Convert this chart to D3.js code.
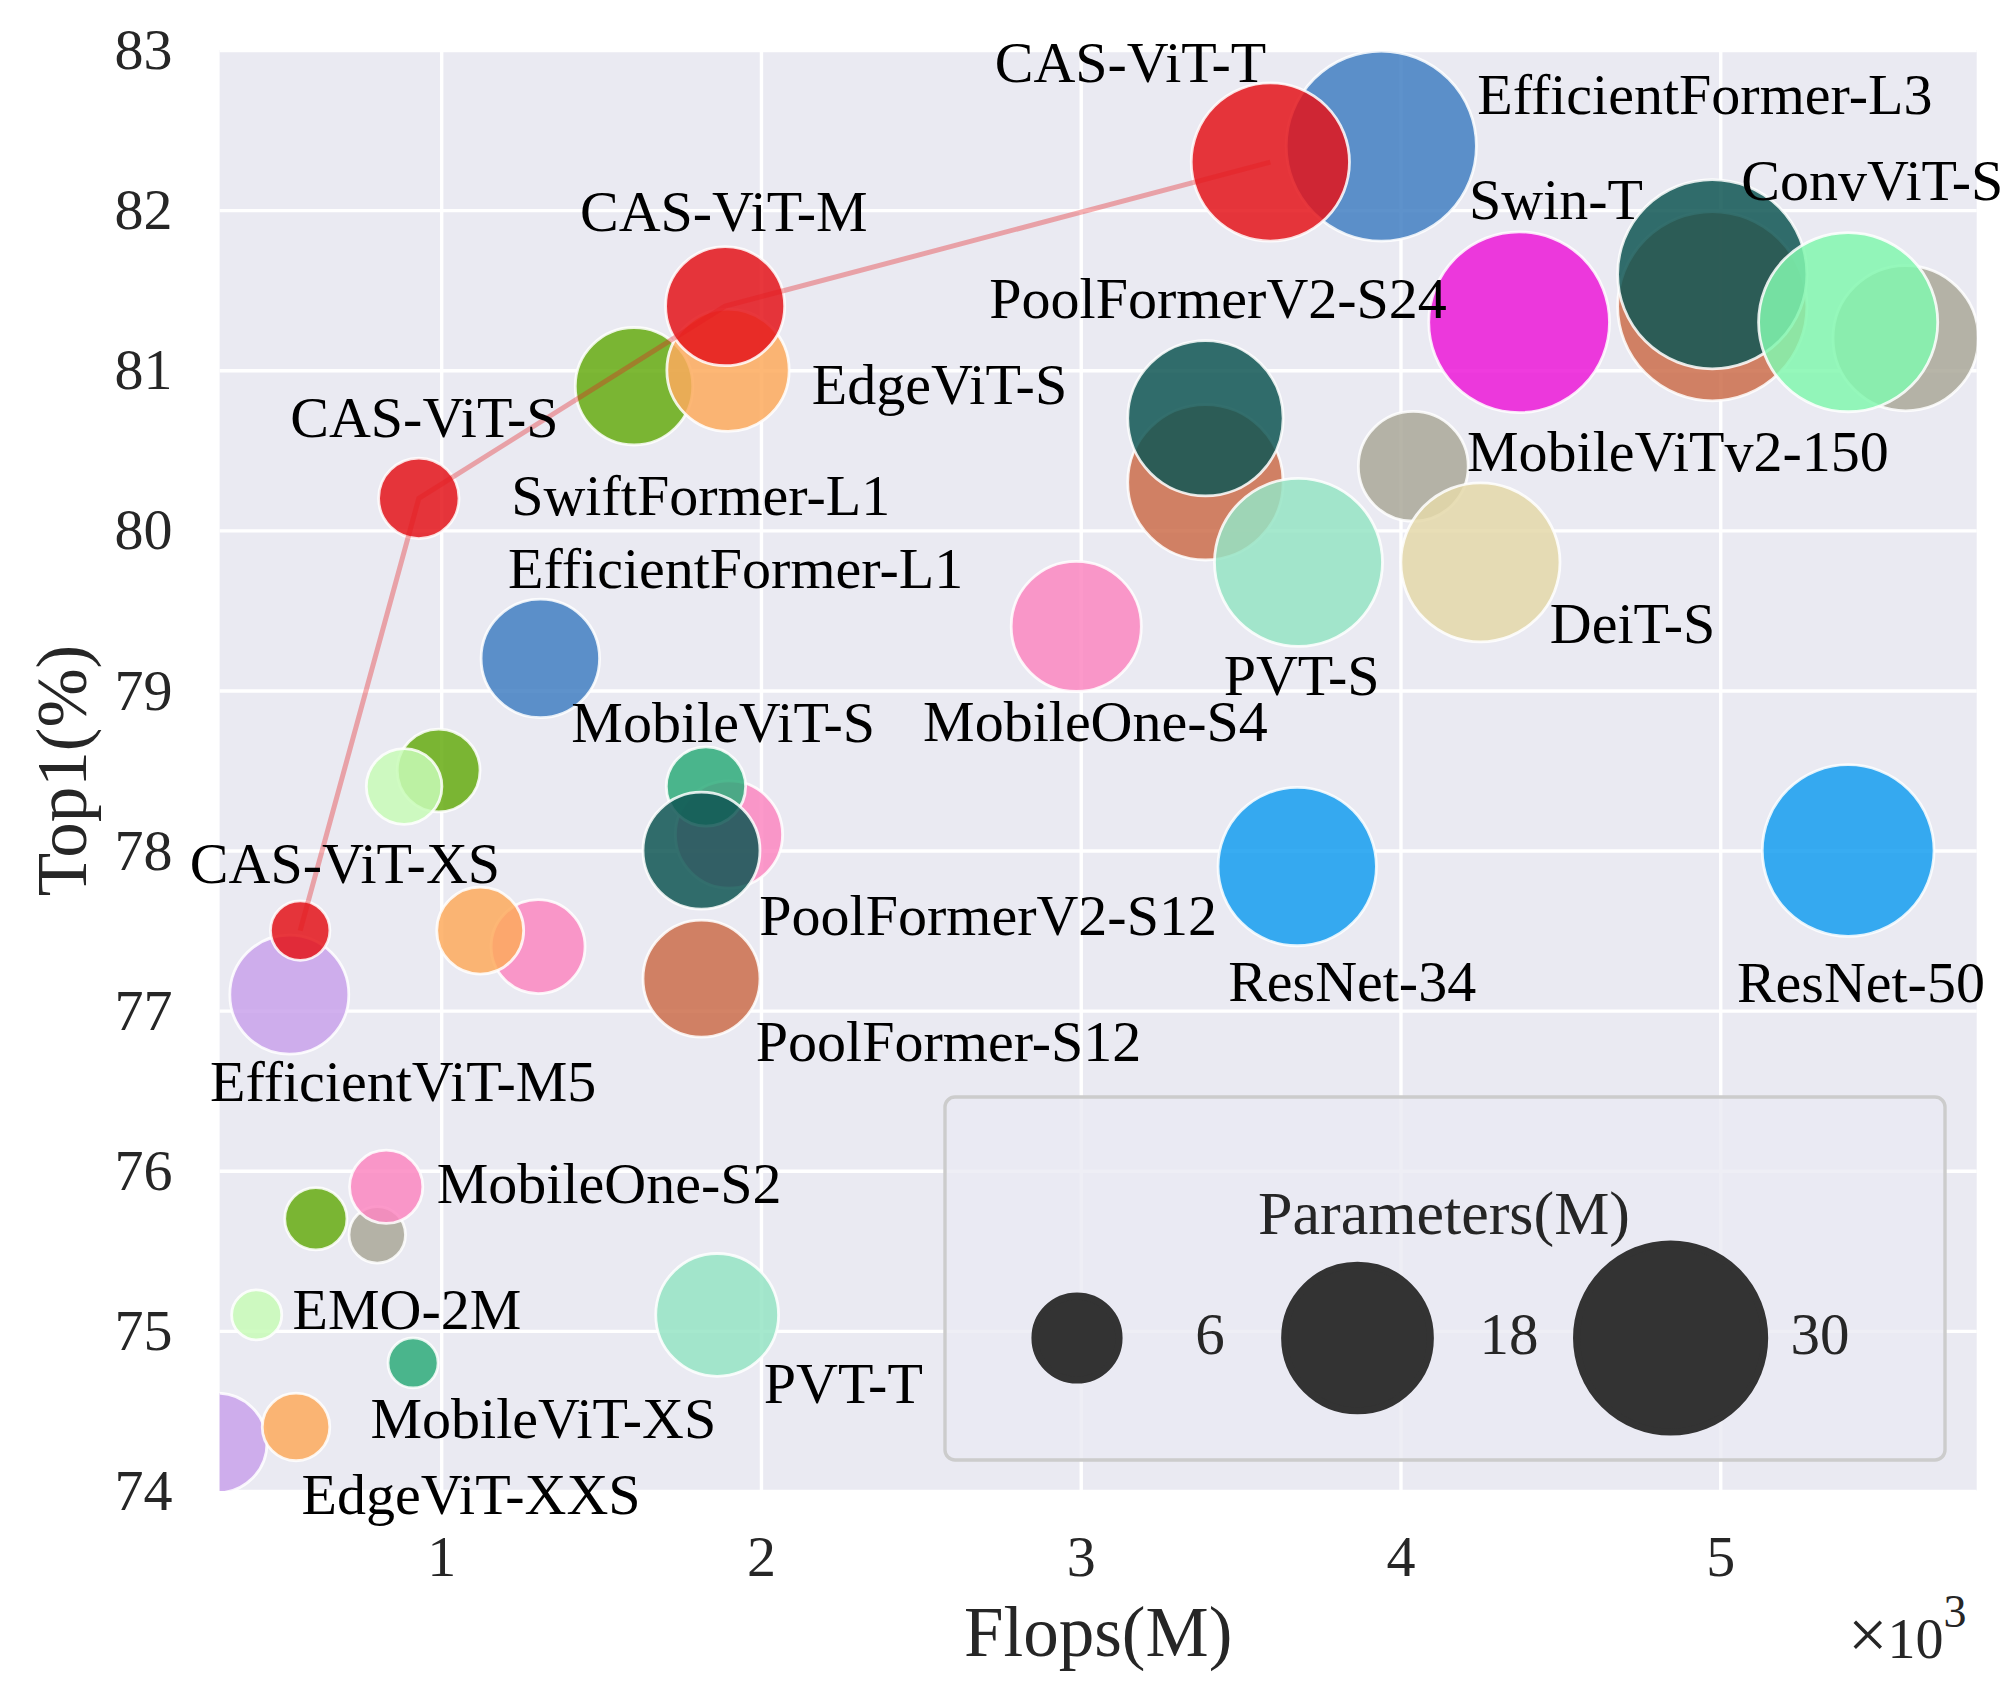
<!DOCTYPE html>
<html>
<head>
<meta charset="utf-8">
<script src="https://cdn.jsdelivr.net/npm/d3@7/dist/d3.min.js"></script>
<style>
  html, body { margin: 0; padding: 0; background: #ffffff; }
  svg { display: block; }
</style>
</head>
<body>
<svg id="chart" width="2012" height="1695"></svg>
<script>
// ---------------- DATA ----------------
// families in drawing order, with their colours
const families = ["EfficientViT", "MobileViTv2", "MobileOne", "SwiftFormer", "EMO", "EdgeViT",
  "MobileViT", "PoolFormer", "PoolFormerV2", "EfficientFormer", "PVT", "DeiT", "Swin", "ConViT",
  "ResNet", "CAS-ViT"];
const familyColors = ["#c9a2eb", "#aaa899", "#fb87c1", "#66ac12", "#c8fbb7", "#fdaa5d",
  "#2eac7a", "#cb6d4b", "#0f5654", "#427fc2", "#95e4c4", "#e4d8a9", "#ec19d8", "#83f7af",
  "#159df0", "#e4141a"];

// model points (drawing order)
const modelNames = ["EfficientViT-M4", "EfficientViT-M5",
  "MobileViTv2-0.75", "MobileViTv2-1.5", "MobileViTv2-2.0",
  "MobileOne-S1", "MobileOne-S2", "MobileOne-S3", "MobileOne-S4",
  "SwiftFormer-XS", "SwiftFormer-S", "SwiftFormer-L1",
  "EMO-2M", "EMO-5M",
  "EdgeViT-XXS", "EdgeViT-XS", "EdgeViT-S",
  "MobileViT-XS", "MobileViT-S",
  "PoolFormer-S12", "PoolFormer-S24", "PoolFormer-S36",
  "PoolFormerV2-S12", "PoolFormerV2-S24", "PoolFormerV2-S36",
  "EfficientFormer-L1", "EfficientFormer-L3",
  "PVT-T", "PVT-S", "DeiT-S", "Swin-T", "ConViT-S",
  "ResNet-34", "ResNet-50",
  "CAS-ViT-XS", "CAS-ViT-S", "CAS-ViT-M", "CAS-ViT-T"];
const modelFamily = ["EfficientViT", "EfficientViT",
  "MobileViTv2", "MobileViTv2", "MobileViTv2",
  "MobileOne", "MobileOne", "MobileOne", "MobileOne",
  "SwiftFormer", "SwiftFormer", "SwiftFormer",
  "EMO", "EMO",
  "EdgeViT", "EdgeViT", "EdgeViT",
  "MobileViT", "MobileViT",
  "PoolFormer", "PoolFormer", "PoolFormer",
  "PoolFormerV2", "PoolFormerV2", "PoolFormerV2",
  "EfficientFormer", "EfficientFormer",
  "PVT", "PVT", "DeiT", "Swin", "ConViT",
  "ResNet", "ResNet",
  "CAS-ViT", "CAS-ViT", "CAS-ViT", "CAS-ViT"];
// Flops (x10^3 M)
const flops = [0.299, 0.525,
  0.80, 4.04, 5.58,
  0.828, 1.303, 1.90, 2.986,
  0.608, 0.992, 1.603,
  0.423, 0.884,
  0.546, 1.122, 1.897,
  0.912, 1.828,
  1.814, 3.39, 4.975,
  1.814, 3.39, 4.975,
  1.31, 3.94,
  1.863, 3.681, 4.25, 4.371, 5.40,
  3.677, 5.40,
  0.559, 0.930, 1.888, 3.593];
// Top-1 accuracy (%)
const top1 = [74.3, 77.1,
  75.6, 80.4, 81.2,
  75.9, 77.4, 78.1, 79.4,
  75.7, 78.5, 80.9,
  75.1, 78.4,
  74.4, 77.5, 81.0,
  74.8, 78.4,
  77.2, 80.3, 81.4,
  78.0, 80.7, 81.6,
  79.2, 82.4,
  75.1, 79.8, 79.8, 81.3, 81.3,
  77.9, 78.0,
  77.5, 80.2, 81.4, 82.3];
// Parameters (M)
const params = [8.8, 12.4,
  2.9, 10.6, 18.4,
  4.8, 7.8, 10.1, 14.8,
  3.5, 6.1, 12.1,
  2.3, 5.1,
  4.1, 6.7, 13.1,
  2.3, 5.6,
  12, 21, 31,
  12, 21, 31,
  12.3, 31.3,
  13.2, 24.5, 22, 28.3, 27.8,
  21.8, 25.6,
  3.2, 5.76, 12.42, 21.76];

// text annotations (data coordinates of the text anchor)
const labelTexts = ["CAS-ViT-T", "EfficientFormer-L3", "Swin-T", "ConvViT-S", "CAS-ViT-M",
  "PoolFormerV2-S24", "EdgeViT-S", "CAS-ViT-S", "MobileViTv2-150", "SwiftFormer-L1",
  "EfficientFormer-L1", "DeiT-S", "PVT-S", "MobileViT-S", "MobileOne-S4", "CAS-ViT-XS",
  "PoolFormerV2-S12", "ResNet-34", "ResNet-50", "PoolFormer-S12", "EfficientViT-M5",
  "MobileOne-S2", "EMO-2M", "PVT-T", "MobileViT-XS", "EdgeViT-XXS"];
const labelX = [2.731, 4.240, 4.214, 5.066, 1.434,
  2.714, 2.159, 0.528, 4.208, 1.219,
  1.209, 4.467, 3.447, 1.407, 2.507, 0.214,
  1.995, 3.461, 5.052, 1.984, 0.277,
  0.986, 0.535, 2.009, 0.779, 0.563];
const labelY = [82.801, 82.602, 81.946, 82.065, 81.872,
  81.325, 80.787, 80.585, 80.373, 80.094,
  79.637, 79.296, 78.971, 78.679, 78.682, 77.795,
  77.473, 77.060, 77.055, 76.685, 76.434,
  75.796, 75.014, 74.552, 74.332, 73.858];

// axes / legend
const xTicks = [1, 2, 3, 4, 5];
const yTicks = [74, 75, 76, 77, 78, 79, 80, 81, 82, 83];
const legendSizes = [6, 18, 30];
const xDomain = [0.307, 5.802];
const yDomain = [74, 83];

// ---------------- CHART ----------------
const svg = d3.select("#chart");
const FONT = "'Liberation Serif', 'Times New Roman', Times, serif";
const plot = { left: 219.6, right: 1976.7, top: 50, bottom: 1491 };

const x = d3.scaleLinear().domain(xDomain).range([plot.left, plot.right]);
const y = d3.scaleLinear().domain(yDomain).range([plot.bottom, plot.top]);
const r = d3.scaleSqrt().domain([0, 30]).range([0, Math.sqrt(295 * 30)]);
const color = d3.scaleOrdinal().domain(families).range(familyColors);

const points = modelNames.map((n, i) => ({
  name: n, family: modelFamily[i], flops: flops[i], top1: top1[i], params: params[i]
}));

// background
svg.append("rect")
  .attr("x", plot.left).attr("y", plot.top)
  .attr("width", plot.right - plot.left).attr("height", plot.bottom - plot.top)
  .attr("fill", "#eaeaf2");

// grid
const gridX = svg.append("g")
  .attr("transform", `translate(0,${plot.bottom})`)
  .call(d3.axisBottom(x).tickValues(xTicks).tickSize(-(plot.bottom - plot.top)).tickFormat(""));
const gridY = svg.append("g")
  .attr("transform", `translate(${plot.left},0)`)
  .call(d3.axisLeft(y).tickValues(yTicks).tickSize(-(plot.right - plot.left)).tickFormat(""));
[gridX, gridY].forEach(g => {
  g.select(".domain").remove();
  g.selectAll("line").attr("stroke", "#ffffff").attr("stroke-width", 3.4);
});

// clip
svg.append("clipPath").attr("id", "plotclip")
  .append("rect")
  .attr("x", plot.left).attr("y", plot.top)
  .attr("width", plot.right - plot.left).attr("height", plot.bottom - plot.top);

const marks = svg.append("g").attr("clip-path", "url(#plotclip)");

marks.selectAll("circle.pt")
  .data(points)
  .join("circle")
  .attr("class", "pt")
  .attr("cx", d => x(d.flops))
  .attr("cy", d => y(d.top1))
  .attr("r", d => r(d.params) - 1)
  .attr("fill", d => color(d.family))
  .attr("fill-opacity", 0.85)
  .attr("stroke", "#ffffff")
  .attr("stroke-opacity", 0.85)
  .attr("stroke-width", 2.8);

// CAS-ViT line
const cas = points.filter(d => d.family === "CAS-ViT");
marks.append("path")
  .datum(cas)
  .attr("d", d3.line().x(d => x(d.flops)).y(d => y(d.top1)))
  .attr("fill", "none")
  .attr("stroke", "#e41a1c")
  .attr("stroke-opacity", 0.35)
  .attr("stroke-width", 5);

// annotations
svg.append("g")
  .selectAll("text")
  .data(labelTexts)
  .join("text")
  .attr("x", (d, i) => x(labelX[i]))
  .attr("y", (d, i) => y(labelY[i]))
  .attr("font-family", FONT)
  .attr("font-size", 58)
  .attr("fill", "#000000")
  .text(d => d);

// tick labels
const xAxis = svg.append("g")
  .attr("transform", `translate(0,${plot.bottom})`)
  .call(d3.axisBottom(x).tickValues(xTicks).tickSize(0).tickPadding(44).tickFormat(d3.format("d")));
const yAxis = svg.append("g")
  .attr("transform", `translate(${plot.left},0)`)
  .call(d3.axisLeft(y).tickValues(yTicks).tickSize(0).tickPadding(47).tickFormat(d3.format("d")));
[xAxis, yAxis].forEach(g => {
  g.select(".domain").remove();
  g.selectAll("text").attr("font-family", FONT).attr("font-size", 58).attr("fill", "#262626");
});

// axis titles
svg.append("text")
  .attr("x", (plot.left + plot.right) / 2)
  .attr("y", 1656)
  .attr("text-anchor", "middle")
  .attr("font-family", FONT).attr("font-size", 71).attr("fill", "#262626")
  .text("Flops(M)");
svg.append("text")
  .attr("transform", `translate(86,${(plot.top + plot.bottom) / 2}) rotate(-90)`)
  .attr("text-anchor", "middle")
  .attr("font-family", FONT).attr("font-size", 71).attr("fill", "#262626")
  .text("Top1(%)");

// x10^3 offset text
const off = svg.append("text")
  .attr("x", 1848).attr("y", 1658)
  .attr("font-family", FONT).attr("font-size", 56).attr("fill", "#262626");
off.append("tspan").attr("font-size", 70).text("×");
off.append("tspan").text("10");
off.append("tspan").attr("font-size", 46).attr("dy", -31).text("3");

// legend
const lg = svg.append("g");
lg.append("rect")
  .attr("x", 945).attr("y", 1097)
  .attr("width", 1945 - 945).attr("height", 1460 - 1097)
  .attr("rx", 10).attr("ry", 10)
  .attr("fill", "#eaeaf2").attr("fill-opacity", 0.8)
  .attr("stroke", "#cccccc").attr("stroke-width", 3.4);
lg.append("text")
  .attr("x", 1444).attr("y", 1234)
  .attr("text-anchor", "middle")
  .attr("font-family", FONT).attr("font-size", 62).attr("fill", "#262626")
  .text("Parameters(M)");
const legendCx = [1077, 1357.5, 1670.6];
const legendTx = [1210, 1509, 1820];
lg.selectAll("circle")
  .data(legendSizes)
  .join("circle")
  .attr("cx", (d, i) => legendCx[i])
  .attr("cy", 1338)
  .attr("r", d => r(d))
  .attr("fill", "#333333")
  .attr("stroke", "#333333")
  .attr("stroke-width", 7);
lg.selectAll("text.lab")
  .data(legendSizes)
  .join("text")
  .attr("class", "lab")
  .attr("x", (d, i) => legendTx[i])
  .attr("y", 1354)
  .attr("text-anchor", "middle")
  .attr("font-family", FONT).attr("font-size", 59).attr("fill", "#262626")
  .text(d => d);
</script>
</body>
</html>
